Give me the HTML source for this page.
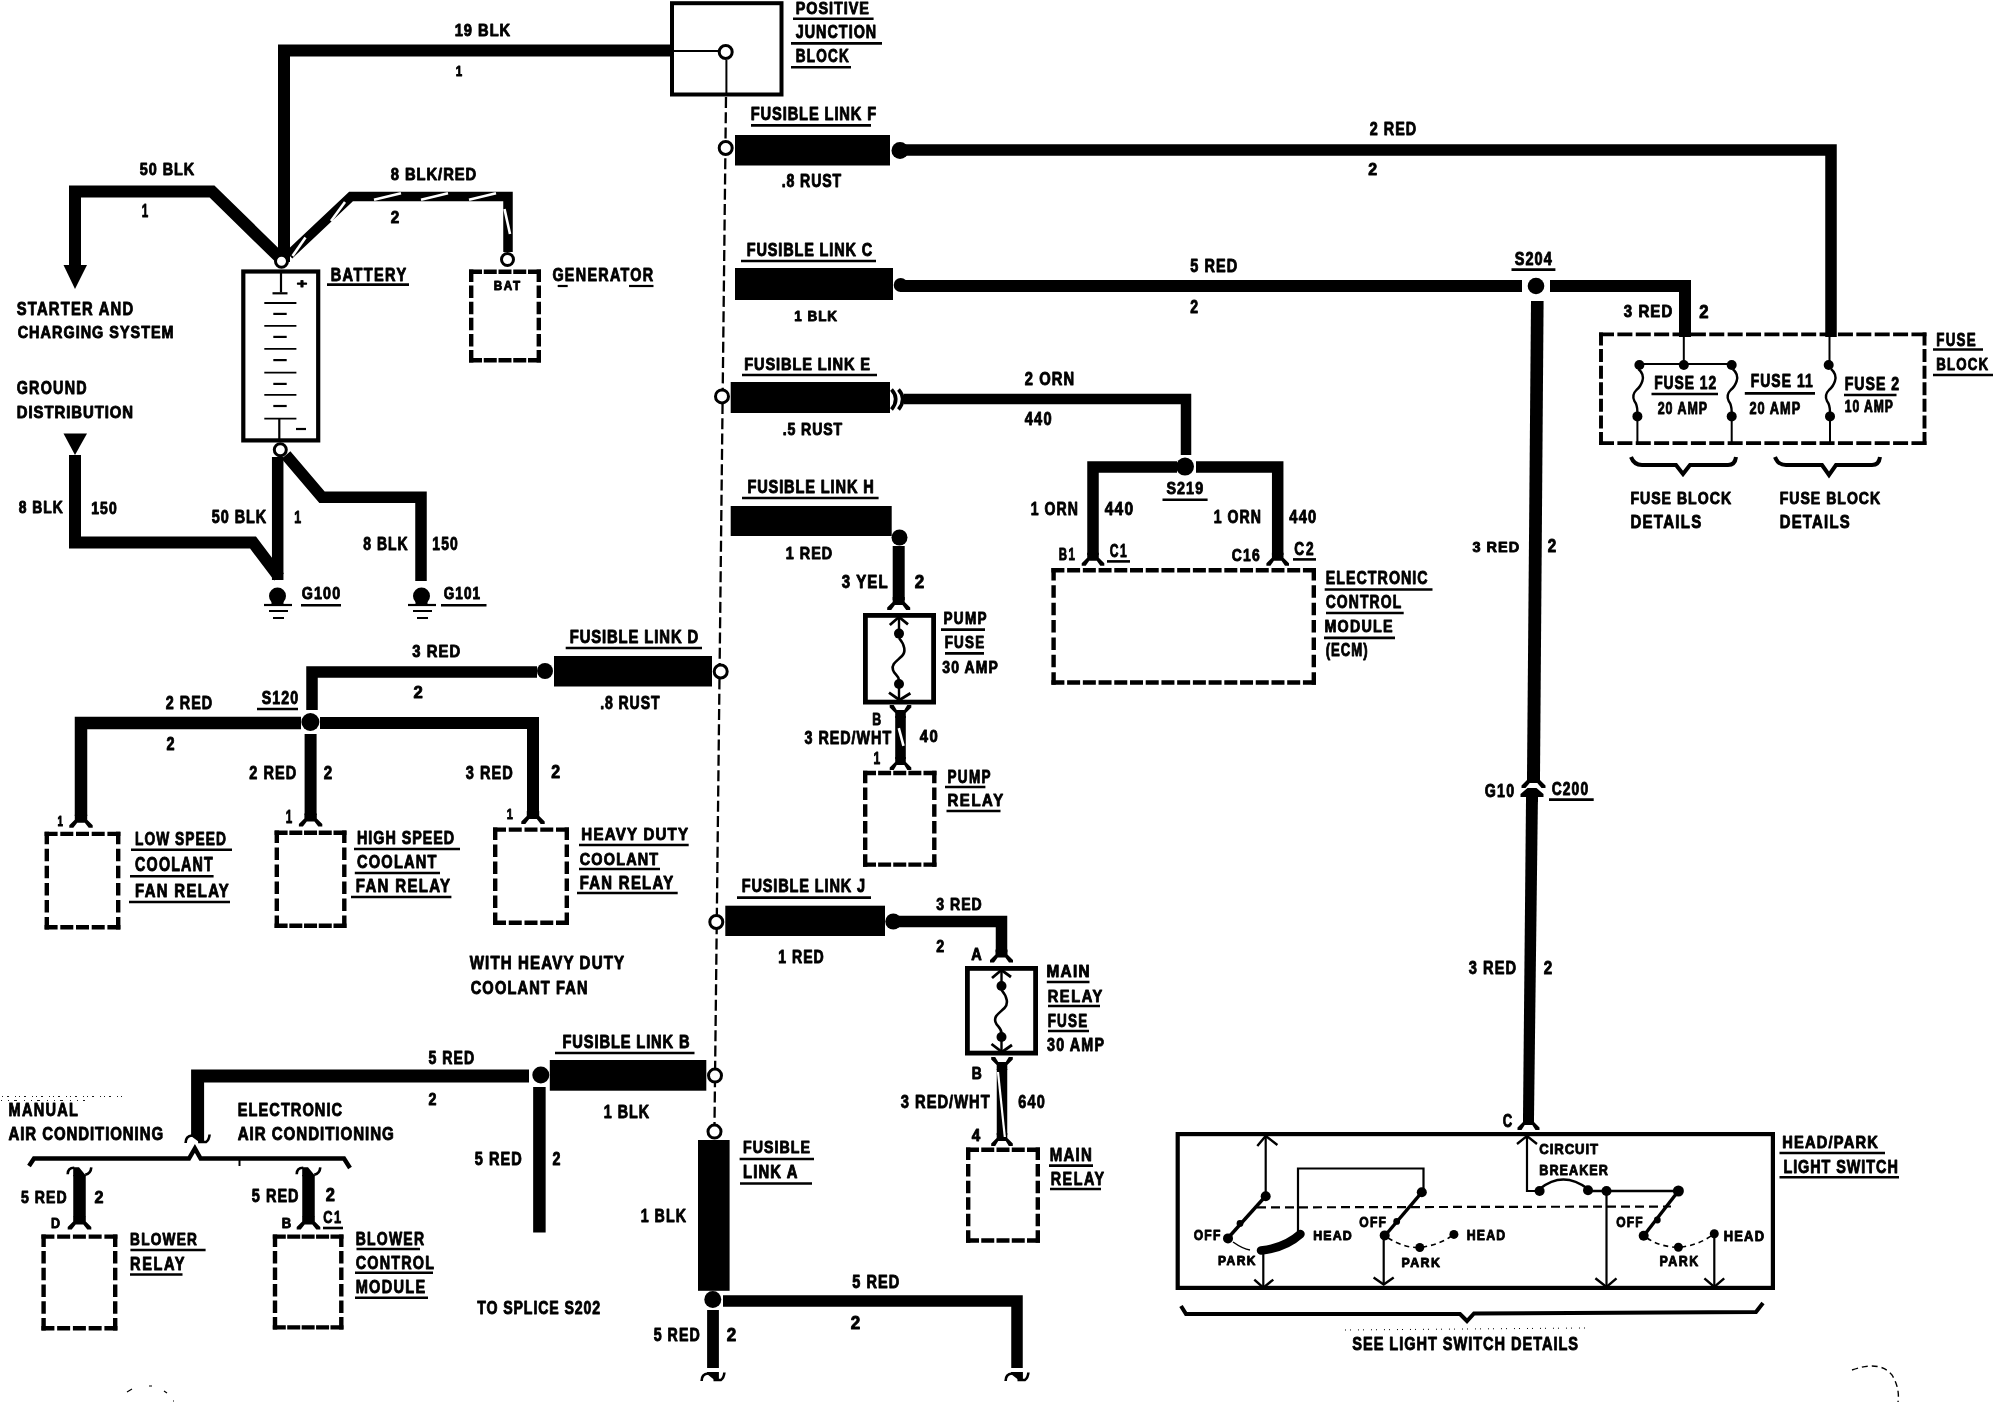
<!DOCTYPE html>
<html><head><meta charset="utf-8"><style>
html,body{margin:0;padding:0;background:#fff;overflow:hidden;}
svg{display:block;will-change:transform;}
text{font-family:"Liberation Sans",sans-serif;font-weight:bold;fill:#000;}
</style></head><body>
<svg width="1994" height="1408" viewBox="0 0 1994 1408" stroke="#000" fill="#000">
<rect x="0" y="0" width="1994" height="1408" fill="#fff" stroke="none"/>
<g stroke="none">
</g>
<polyline points="284,262 284,50.5 671,50.5" fill="none" stroke-width="12" stroke-linecap="butt" stroke-linejoin="miter"/>
<text transform="translate(454.7,35.7) scale(0.905,1)" font-size="16.18" textLength="61.3" lengthAdjust="spacing" stroke="#000" stroke-width="0.9" stroke-linejoin="round">19 BLK</text>
<text transform="translate(455.7,75.7) scale(0.748,1)" font-size="14.75" textLength="8.6" lengthAdjust="spacingAndGlyphs" stroke="#000" stroke-width="0.9" stroke-linejoin="round">1</text>
<polyline points="75,266 75,191.5 212,191.5 279,257" fill="none" stroke-width="12" stroke-linecap="butt" stroke-linejoin="miter"/>
<path d="M63.5,265 L87,265 L75,289 Z" stroke="none"/>
<text transform="translate(139.7,174.7) scale(0.852,1)" font-size="16.89" textLength="64.0" lengthAdjust="spacing" stroke="#000" stroke-width="0.9" stroke-linejoin="round">50 BLK</text>
<text transform="translate(141.7,216.7) scale(0.627,1)" font-size="17.61" textLength="10.3" lengthAdjust="spacingAndGlyphs" stroke="#000" stroke-width="0.9" stroke-linejoin="round">1</text>
<polyline points="289,255 351,196.5 508,196.5 508,252" fill="none" stroke-width="9.5" stroke-linecap="butt" stroke-linejoin="miter"/>
<line x1="374" y1="199.8" x2="401" y2="193.2" stroke="#fff" stroke-width="2.6"/>
<line x1="421" y1="199.8" x2="448" y2="193.2" stroke="#fff" stroke-width="2.6"/>
<line x1="469" y1="199.8" x2="496" y2="193.2" stroke="#fff" stroke-width="2.6"/>
<line x1="331" y1="221" x2="345" y2="202" stroke="#fff" stroke-width="2.6"/>
<line x1="292.5" y1="256" x2="305.5" y2="237.5" stroke="#fff" stroke-width="2.6"/>
<line x1="504.5" y1="209" x2="510" y2="234" stroke="#fff" stroke-width="2.6"/>
<text transform="translate(390.7,180.2) scale(0.872,1)" font-size="16.89" textLength="98.0" lengthAdjust="spacing" stroke="#000" stroke-width="0.9" stroke-linejoin="round">8 BLK/RED</text>
<text transform="translate(390.7,222.7) scale(0.893,1)" font-size="16.18" textLength="9.5" lengthAdjust="spacingAndGlyphs" stroke="#000" stroke-width="0.9" stroke-linejoin="round">2</text>
<rect x="243.3" y="271.5" width="74.9" height="168.9" fill="none" stroke-width="4.2"/>
<circle cx="281.5" cy="261.3" r="6.0" fill="#fff" stroke-width="3"/>
<polyline points="281,273 281,292.5" fill="none" stroke-width="2.2" stroke-linecap="butt" stroke-linejoin="miter"/>
<polyline points="272.5,293.3 287.5,293.3" fill="none" stroke-width="2.2" stroke-linecap="butt" stroke-linejoin="miter"/>
<text transform="translate(296.7,287.7) scale(1.150,1)" font-size="13.32" textLength="9.1" lengthAdjust="spacingAndGlyphs" stroke="#000" stroke-width="0.9" stroke-linejoin="round">+</text>
<polyline points="264.3,303 296.4,303" fill="none" stroke-width="1.8" stroke-linecap="butt" stroke-linejoin="miter"/>
<polyline points="273.3,313.9 286.7,313.9" fill="none" stroke-width="2.2" stroke-linecap="butt" stroke-linejoin="miter"/>
<polyline points="264.3,325.8 296.4,325.8" fill="none" stroke-width="1.8" stroke-linecap="butt" stroke-linejoin="miter"/>
<polyline points="273.3,336.9 286.7,336.9" fill="none" stroke-width="2.2" stroke-linecap="butt" stroke-linejoin="miter"/>
<polyline points="264.3,348.8 296.4,348.8" fill="none" stroke-width="1.8" stroke-linecap="butt" stroke-linejoin="miter"/>
<polyline points="273.3,360.1 286.7,360.1" fill="none" stroke-width="2.2" stroke-linecap="butt" stroke-linejoin="miter"/>
<polyline points="264.3,372.7 296.4,372.7" fill="none" stroke-width="1.8" stroke-linecap="butt" stroke-linejoin="miter"/>
<polyline points="273.3,383.9 286.7,383.9" fill="none" stroke-width="2.2" stroke-linecap="butt" stroke-linejoin="miter"/>
<polyline points="264.3,394.8 296.4,394.8" fill="none" stroke-width="1.8" stroke-linecap="butt" stroke-linejoin="miter"/>
<polyline points="273.3,406 286.7,406" fill="none" stroke-width="2.2" stroke-linecap="butt" stroke-linejoin="miter"/>
<polyline points="264.3,418.7 296.4,418.7" fill="none" stroke-width="1.8" stroke-linecap="butt" stroke-linejoin="miter"/>
<polyline points="279.3,418.7 279.3,440" fill="none" stroke-width="2.2" stroke-linecap="butt" stroke-linejoin="miter"/>
<polyline points="296,429 306,429" fill="none" stroke-width="2.2" stroke-linecap="butt" stroke-linejoin="miter"/>
<text transform="translate(330.7,280.7) scale(0.826,1)" font-size="17.61" textLength="91.4" lengthAdjust="spacing" stroke="#000" stroke-width="0.9" stroke-linejoin="round">BATTERY</text>
<line x1="327" y1="284.6" x2="409" y2="284.6" stroke-width="2.6"/>
<line x1="469.0" y1="271.7" x2="541.0" y2="271.7" stroke-width="4.4" stroke-dasharray="13.00 1.75"/>
<line x1="469.0" y1="360.3" x2="541.0" y2="360.3" stroke-width="4.4" stroke-dasharray="13.00 1.75"/>
<line x1="471.2" y1="269.5" x2="471.2" y2="362.5" stroke-width="4.4" stroke-dasharray="12.50 3.60"/>
<line x1="538.8" y1="269.5" x2="538.8" y2="362.5" stroke-width="4.4" stroke-dasharray="12.50 3.60"/>
<circle cx="507.5" cy="259.5" r="6.0" fill="#fff" stroke-width="3"/>
<text transform="translate(493.7,289.7) scale(0.879,1)" font-size="13.32" textLength="30.1" lengthAdjust="spacing" stroke="#000" stroke-width="0.9" stroke-linejoin="round">BAT</text>
<text transform="translate(552.4,280.7) scale(0.815,1)" font-size="17.61" textLength="123.6" lengthAdjust="spacing" stroke="#000" stroke-width="0.9" stroke-linejoin="round">GENERATOR</text>
<line x1="557.7" y1="286" x2="567.7" y2="286" stroke-width="2.2"/>
<line x1="629" y1="286" x2="653.5" y2="286" stroke-width="2.2"/>
<text transform="translate(16.7,314.7) scale(0.777,1)" font-size="19.04" textLength="149.9" lengthAdjust="spacing" stroke="#000" stroke-width="0.9" stroke-linejoin="round">STARTER AND</text>
<text transform="translate(17.7,338.2) scale(0.854,1)" font-size="16.89" textLength="182.6" lengthAdjust="spacing" stroke="#000" stroke-width="0.9" stroke-linejoin="round">CHARGING SYSTEM</text>
<text transform="translate(16.7,393.7) scale(0.814,1)" font-size="17.61" textLength="86.0" lengthAdjust="spacing" stroke="#000" stroke-width="0.9" stroke-linejoin="round">GROUND</text>
<text transform="translate(16.7,417.7) scale(0.897,1)" font-size="16.61" textLength="129.8" lengthAdjust="spacing" stroke="#000" stroke-width="0.9" stroke-linejoin="round">DISTRIBUTION</text>
<path d="M63.5,433.5 L87,433.5 L75,455 Z" stroke="none"/>
<circle cx="280.3" cy="449.8" r="6.0" fill="#fff" stroke-width="3"/>
<polyline points="277.7,457 277.7,580" fill="none" stroke-width="11.5" stroke-linecap="butt" stroke-linejoin="miter"/>
<polyline points="75,455 75,542.5 253,542.5 279,577" fill="none" stroke-width="12" stroke-linecap="butt" stroke-linejoin="miter"/>
<polyline points="286,455 322,497.3 421,497.3 421,581" fill="none" stroke-width="11.5" stroke-linecap="butt" stroke-linejoin="miter"/>
<text transform="translate(18.7,512.7) scale(0.823,1)" font-size="16.89" textLength="53.6" lengthAdjust="spacing" stroke="#000" stroke-width="0.9" stroke-linejoin="round">8 BLK</text>
<text transform="translate(91.2,513.7) scale(0.839,1)" font-size="16.61" textLength="30.4" lengthAdjust="spacing" stroke="#000" stroke-width="0.9" stroke-linejoin="round">150</text>
<text transform="translate(211.7,522.7) scale(0.817,1)" font-size="17.61" textLength="66.7" lengthAdjust="spacing" stroke="#000" stroke-width="0.9" stroke-linejoin="round">50 BLK</text>
<text transform="translate(294.3,522.7) scale(0.694,1)" font-size="16.89" textLength="9.9" lengthAdjust="spacingAndGlyphs" stroke="#000" stroke-width="0.9" stroke-linejoin="round">1</text>
<text transform="translate(363.3,550.3) scale(0.787,1)" font-size="17.75" textLength="56.4" lengthAdjust="spacing" stroke="#000" stroke-width="0.9" stroke-linejoin="round">8 BLK</text>
<text transform="translate(432.3,550.3) scale(0.782,1)" font-size="17.75" textLength="32.5" lengthAdjust="spacing" stroke="#000" stroke-width="0.9" stroke-linejoin="round">150</text>
<circle cx="277.5" cy="596" r="8.5" stroke="none"/>
<rect x="271.5" y="598" width="12.0" height="6.0" stroke="none"/>
<polyline points="264,605 292,605" fill="none" stroke-width="2.2" stroke-linecap="butt" stroke-linejoin="miter"/>
<polyline points="269,611 288,611" fill="none" stroke-width="2" stroke-linecap="butt" stroke-linejoin="miter"/>
<polyline points="273,618 284,618" fill="none" stroke-width="2" stroke-linecap="butt" stroke-linejoin="miter"/>
<text transform="translate(301.7,599.2) scale(0.847,1)" font-size="16.89" textLength="45.4" lengthAdjust="spacing" stroke="#000" stroke-width="0.9" stroke-linejoin="round">G100</text>
<line x1="301" y1="605.3" x2="341" y2="605.3" stroke-width="2.4"/>
<circle cx="421.5" cy="596" r="8.5" stroke="none"/>
<rect x="415.5" y="598" width="12.0" height="6.0" stroke="none"/>
<polyline points="408,605 436,605" fill="none" stroke-width="2.2" stroke-linecap="butt" stroke-linejoin="miter"/>
<polyline points="413,611 432,611" fill="none" stroke-width="2" stroke-linecap="butt" stroke-linejoin="miter"/>
<polyline points="417,618 428,618" fill="none" stroke-width="2" stroke-linecap="butt" stroke-linejoin="miter"/>
<text transform="translate(443.7,599.2) scale(0.803,1)" font-size="16.89" textLength="45.4" lengthAdjust="spacing" stroke="#000" stroke-width="0.9" stroke-linejoin="round">G101</text>
<line x1="441" y1="605.3" x2="486.5" y2="605.3" stroke-width="2.4"/>
<rect x="672.0" y="3.2" width="109.5" height="91.3" fill="none" stroke-width="4"/>
<polyline points="672,51 718,51" fill="none" stroke-width="2" stroke-linecap="butt" stroke-linejoin="miter"/>
<polyline points="726.4,60 726.4,95" fill="none" stroke-width="2" stroke-linecap="butt" stroke-linejoin="miter"/>
<circle cx="725.7" cy="52" r="6.5" fill="#fff" stroke-width="3"/>
<text transform="translate(795.7,13.5) scale(0.850,1)" font-size="16.96" textLength="86.0" lengthAdjust="spacing" stroke="#000" stroke-width="0.9" stroke-linejoin="round">POSITIVE</text>
<line x1="793" y1="18.8" x2="873.6" y2="18.8" stroke-width="2.6"/>
<text transform="translate(795.7,37.7) scale(0.814,1)" font-size="17.61" textLength="98.9" lengthAdjust="spacing" stroke="#000" stroke-width="0.9" stroke-linejoin="round">JUNCTION</text>
<line x1="791" y1="43.4" x2="882" y2="43.4" stroke-width="2.6"/>
<text transform="translate(795.7,61.7) scale(0.770,1)" font-size="17.61" textLength="68.8" lengthAdjust="spacing" stroke="#000" stroke-width="0.9" stroke-linejoin="round">BLOCK</text>
<line x1="791" y1="67.2" x2="851" y2="67.2" stroke-width="2.6"/>
<line x1="726" y1="97" x2="714.5" y2="1124" stroke-width="2.3" stroke-dasharray="11 4.3"/>
<text transform="translate(750.7,120.1) scale(0.808,1)" font-size="18.18" textLength="155.4" lengthAdjust="spacing" stroke="#000" stroke-width="0.9" stroke-linejoin="round">FUSIBLE LINK F</text>
<line x1="751" y1="125.4" x2="871" y2="125.4" stroke-width="2.6"/>
<circle cx="725.7" cy="148" r="6.5" fill="#fff" stroke-width="3"/>
<rect x="735" y="135" width="155.0" height="30.5" stroke="none"/>
<circle cx="900" cy="150.5" r="8.5" stroke="none"/>
<polyline points="900,150 1831,150 1831,337" fill="none" stroke-width="11.5" stroke-linecap="butt" stroke-linejoin="miter"/>
<text transform="translate(781.7,186.7) scale(0.802,1)" font-size="17.61" textLength="74.2" lengthAdjust="spacing" stroke="#000" stroke-width="0.9" stroke-linejoin="round">.8 RUST</text>
<text transform="translate(1369.7,135.1) scale(0.790,1)" font-size="18.18" textLength="58.8" lengthAdjust="spacing" stroke="#000" stroke-width="0.9" stroke-linejoin="round">2 RED</text>
<text transform="translate(1368.3,175.2) scale(0.896,1)" font-size="16.89" textLength="9.9" lengthAdjust="spacingAndGlyphs" stroke="#000" stroke-width="0.9" stroke-linejoin="round">2</text>
<text transform="translate(746.7,255.7) scale(0.822,1)" font-size="17.61" textLength="152.6" lengthAdjust="spacing" stroke="#000" stroke-width="0.9" stroke-linejoin="round">FUSIBLE LINK C</text>
<line x1="741" y1="261" x2="876" y2="261" stroke-width="2.6"/>
<rect x="735" y="268" width="158.0" height="32.0" stroke="none"/>
<circle cx="900.7" cy="285" r="7" stroke="none"/>
<polyline points="900,286 1522,286" fill="none" stroke-width="12" stroke-linecap="butt" stroke-linejoin="miter"/>
<polyline points="1550,286 1685,286 1685,337" fill="none" stroke-width="12" stroke-linecap="butt" stroke-linejoin="miter"/>
<circle cx="1536" cy="286" r="8.3" stroke="none"/>
<text transform="translate(794.3,320.7) scale(0.915,1)" font-size="14.75" textLength="46.8" lengthAdjust="spacing" stroke="#000" stroke-width="0.9" stroke-linejoin="round">1 BLK</text>
<text transform="translate(1190.3,271.7) scale(0.822,1)" font-size="17.61" textLength="57.0" lengthAdjust="spacing" stroke="#000" stroke-width="0.9" stroke-linejoin="round">5 RED</text>
<text transform="translate(1190.3,312.7) scale(0.739,1)" font-size="18.18" textLength="10.6" lengthAdjust="spacingAndGlyphs" stroke="#000" stroke-width="0.9" stroke-linejoin="round">2</text>
<text transform="translate(1514.7,264.7) scale(0.822,1)" font-size="17.61" textLength="45.2" lengthAdjust="spacing" stroke="#000" stroke-width="0.9" stroke-linejoin="round">S204</text>
<line x1="1511.5" y1="269.6" x2="1555.4" y2="269.6" stroke-width="2.6"/>
<text transform="translate(1623.7,316.7) scale(0.902,1)" font-size="16.61" textLength="53.8" lengthAdjust="spacing" stroke="#000" stroke-width="0.9" stroke-linejoin="round">3 RED</text>
<text transform="translate(1699.3,317.7) scale(0.877,1)" font-size="18.04" textLength="10.6" lengthAdjust="spacingAndGlyphs" stroke="#000" stroke-width="0.9" stroke-linejoin="round">2</text>
<path d="M1531,301 L1543.6,301 L1540,776 L1527,776 Z" stroke="none"/>
<path d="M1526,800 L1537.9,800 L1534,1118 L1523,1118 Z" stroke="none"/>
<text transform="translate(744.2,369.7) scale(0.866,1)" font-size="16.89" textLength="145.4" lengthAdjust="spacing" stroke="#000" stroke-width="0.9" stroke-linejoin="round">FUSIBLE LINK E</text>
<line x1="742" y1="375" x2="877" y2="375" stroke-width="2.6"/>
<circle cx="722" cy="396.4" r="6.5" fill="#fff" stroke-width="3"/>
<rect x="730.7" y="382" width="159.3" height="31.0" stroke="none"/>
<path d="M891.5,389.5 Q900,399 891.5,409.5" fill="none" stroke-width="3.6"/>
<path d="M898.5,389.5 Q907,399 898.5,409.5" fill="none" stroke-width="3.6"/>
<polyline points="904,399 1186,399 1186,455" fill="none" stroke-width="10.5" stroke-linecap="butt" stroke-linejoin="miter"/>
<text transform="translate(782.7,434.7) scale(0.850,1)" font-size="16.61" textLength="70.0" lengthAdjust="spacing" stroke="#000" stroke-width="0.9" stroke-linejoin="round">.5 RUST</text>
<text transform="translate(1024.7,384.7) scale(0.836,1)" font-size="17.61" textLength="59.1" lengthAdjust="spacing" stroke="#000" stroke-width="0.9" stroke-linejoin="round">2 ORN</text>
<text transform="translate(1024.7,425.4) scale(0.832,1)" font-size="17.61" textLength="32.3" lengthAdjust="spacing" stroke="#000" stroke-width="0.9" stroke-linejoin="round">440</text>
<polyline points="1093,555 1093,467 1177,467" fill="none" stroke-width="11.5" stroke-linecap="butt" stroke-linejoin="miter"/>
<polyline points="1196,467 1277.7,467 1277.7,555" fill="none" stroke-width="11.5" stroke-linecap="butt" stroke-linejoin="miter"/>
<circle cx="1185" cy="466.6" r="9" stroke="none"/>
<polygon points="1087.2,552.8 1098.8,552.8 1098.8,557.8 1104.3,563.3 1104.3,565.8 1100.3,565.8 1096.8,560.8 1089.2,560.8 1085.7,565.8 1081.7,565.8 1081.7,563.3 1087.2,557.8" stroke="none"/>
<polygon points="1271.9,552.8 1283.5,552.8 1283.5,557.8 1289.0,563.3 1289.0,565.8 1285.0,565.8 1281.5,560.8 1273.9,560.8 1270.4,565.8 1266.4,565.8 1266.4,563.3 1271.9,557.8" stroke="none"/>
<text transform="translate(1166.4,493.7) scale(0.855,1)" font-size="16.75" textLength="43.0" lengthAdjust="spacing" stroke="#000" stroke-width="0.9" stroke-linejoin="round">S219</text>
<line x1="1162.5" y1="499.7" x2="1207.6" y2="499.7" stroke-width="2.6"/>
<text transform="translate(1030.7,514.7) scale(0.779,1)" font-size="18.04" textLength="60.6" lengthAdjust="spacing" stroke="#000" stroke-width="0.9" stroke-linejoin="round">1 ORN</text>
<text transform="translate(1104.7,514.7) scale(0.861,1)" font-size="18.04" textLength="33.1" lengthAdjust="spacing" stroke="#000" stroke-width="0.9" stroke-linejoin="round">440</text>
<text transform="translate(1213.7,523.2) scale(0.799,1)" font-size="17.61" textLength="59.1" lengthAdjust="spacing" stroke="#000" stroke-width="0.9" stroke-linejoin="round">1 ORN</text>
<text transform="translate(1289.3,523.2) scale(0.832,1)" font-size="17.61" textLength="32.3" lengthAdjust="spacing" stroke="#000" stroke-width="0.9" stroke-linejoin="round">440</text>
<text transform="translate(1058.7,560.3) scale(0.675,1)" font-size="17.04" textLength="23.9" lengthAdjust="spacing" stroke="#000" stroke-width="0.9" stroke-linejoin="round">B1</text>
<text transform="translate(1109.7,556.7) scale(0.690,1)" font-size="17.61" textLength="24.7" lengthAdjust="spacing" stroke="#000" stroke-width="0.9" stroke-linejoin="round">C1</text>
<line x1="1107" y1="561.4" x2="1130" y2="561.4" stroke-width="2.6"/>
<text transform="translate(1231.7,560.7) scale(0.828,1)" font-size="16.75" textLength="33.8" lengthAdjust="spacing" stroke="#000" stroke-width="0.9" stroke-linejoin="round">C16</text>
<text transform="translate(1294.3,554.7) scale(0.766,1)" font-size="17.89" textLength="25.1" lengthAdjust="spacing" stroke="#000" stroke-width="0.9" stroke-linejoin="round">C2</text>
<line x1="1293" y1="559.4" x2="1316" y2="559.4" stroke-width="2.6"/>
<line x1="1051.4" y1="570.2" x2="1316.0" y2="570.2" stroke-width="4.4" stroke-dasharray="13.00 2.72"/>
<line x1="1051.4" y1="682.5" x2="1316.0" y2="682.5" stroke-width="4.4" stroke-dasharray="13.00 2.72"/>
<line x1="1053.6" y1="568.0" x2="1053.6" y2="684.7" stroke-width="4.4" stroke-dasharray="12.50 4.87"/>
<line x1="1313.8" y1="568.0" x2="1313.8" y2="684.7" stroke-width="4.4" stroke-dasharray="12.50 4.87"/>
<text transform="translate(1325.7,584.2) scale(0.761,1)" font-size="18.75" textLength="133.9" lengthAdjust="spacing" stroke="#000" stroke-width="0.9" stroke-linejoin="round">ELECTRONIC</text>
<line x1="1324.7" y1="589.5" x2="1432.5" y2="589.5" stroke-width="2.6"/>
<text transform="translate(1325.7,607.7) scale(0.789,1)" font-size="17.61" textLength="95.7" lengthAdjust="spacing" stroke="#000" stroke-width="0.9" stroke-linejoin="round">CONTROL</text>
<line x1="1326" y1="613" x2="1403.7" y2="613" stroke-width="2.6"/>
<text transform="translate(1324.4,631.7) scale(0.855,1)" font-size="16.75" textLength="79.8" lengthAdjust="spacing" stroke="#000" stroke-width="0.9" stroke-linejoin="round">MODULE</text>
<line x1="1324" y1="637.9" x2="1395" y2="637.9" stroke-width="2.6"/>
<text transform="translate(1325.7,655.7) scale(0.749,1)" font-size="17.61" textLength="55.9" lengthAdjust="spacing" stroke="#000" stroke-width="0.9" stroke-linejoin="round">(ECM)</text>
<text transform="translate(747.4,492.7) scale(0.828,1)" font-size="17.61" textLength="152.6" lengthAdjust="spacing" stroke="#000" stroke-width="0.9" stroke-linejoin="round">FUSIBLE LINK H</text>
<line x1="742" y1="498" x2="878.6" y2="498" stroke-width="2.6"/>
<rect x="730.7" y="506" width="161.0" height="30.0" stroke="none"/>
<circle cx="899.5" cy="537.5" r="8" stroke="none"/>
<polyline points="898.7,546 898.7,600" fill="none" stroke-width="12" stroke-linecap="butt" stroke-linejoin="miter"/>
<polygon points="892.7,597.0 904.7,597.0 904.7,602.0 910.2,607.5 910.2,610.0 906.2,610.0 902.5,605.0 894.9,605.0 891.2,610.0 887.2,610.0 887.2,607.5 892.7,602.0" stroke="none"/>
<text transform="translate(785.7,558.7) scale(0.887,1)" font-size="16.18" textLength="52.4" lengthAdjust="spacing" stroke="#000" stroke-width="0.9" stroke-linejoin="round">1 RED</text>
<text transform="translate(841.7,587.7) scale(0.853,1)" font-size="17.61" textLength="53.8" lengthAdjust="spacing" stroke="#000" stroke-width="0.9" stroke-linejoin="round">3 YEL</text>
<text transform="translate(914.7,587.7) scale(0.918,1)" font-size="17.61" textLength="10.3" lengthAdjust="spacingAndGlyphs" stroke="#000" stroke-width="0.9" stroke-linejoin="round">2</text>
<rect x="865.4" y="615.4" width="68.2" height="86.7" fill="none" stroke-width="4.8"/>
<path d="M889.8,625 L899,617 L908,624.4" fill="none" stroke-width="2.8"/>
<polyline points="899,618 899,630" fill="none" stroke-width="2.4" stroke-linecap="butt" stroke-linejoin="miter"/>
<circle cx="899" cy="633.6" r="5" stroke="none"/>
<path d="M899,638 C905,645 906,652 902,656 C897,661 891,664 893,670 C894,674 899,676 899,680" fill="none" stroke-width="2.6"/>
<circle cx="899" cy="684" r="5" stroke="none"/>
<polyline points="899,688 899,700" fill="none" stroke-width="2.4" stroke-linecap="butt" stroke-linejoin="miter"/>
<path d="M889,692.6 L899.5,700 L910.4,693.3" fill="none" stroke-width="2.8"/>
<text transform="translate(943.5,624.3) scale(0.798,1)" font-size="17.04" textLength="54.1" lengthAdjust="spacing" stroke="#000" stroke-width="0.9" stroke-linejoin="round">PUMP</text>
<line x1="941" y1="629.6" x2="985" y2="629.6" stroke-width="2.6"/>
<text transform="translate(944.7,648.1) scale(0.804,1)" font-size="16.75" textLength="49.1" lengthAdjust="spacing" stroke="#000" stroke-width="0.9" stroke-linejoin="round">FUSE</text>
<line x1="945" y1="653.4" x2="984" y2="653.4" stroke-width="2.6"/>
<text transform="translate(942.3,673.2) scale(0.829,1)" font-size="16.89" textLength="67.1" lengthAdjust="spacing" stroke="#000" stroke-width="0.9" stroke-linejoin="round">30 AMP</text>
<polyline points="900.5,716 900.5,759" fill="none" stroke-width="10.6" stroke-linecap="butt" stroke-linejoin="miter"/>
<polygon points="895.2,718.0 905.8,718.0 905.8,713.0 911.3,707.5 911.3,705.0 907.3,705.0 904.3,710.0 896.7,710.0 893.7,705.0 889.7,705.0 889.7,707.5 895.2,713.0" stroke="none"/>
<polygon points="895.2,757.0 905.8,757.0 905.8,762.0 911.3,767.5 911.3,770.0 907.3,770.0 904.3,765.0 896.7,765.0 893.7,770.0 889.7,770.0 889.7,767.5 895.2,762.0" stroke="none"/>
<line x1="898.8" y1="728.2" x2="903.5" y2="745.8" stroke="#fff" stroke-width="2.6"/>
<text transform="translate(872.2,724.7) scale(0.704,1)" font-size="16.75" textLength="12.7" lengthAdjust="spacingAndGlyphs" stroke="#000" stroke-width="0.9" stroke-linejoin="round">B</text>
<text transform="translate(804.5,744.4) scale(0.795,1)" font-size="18.04" textLength="109.0" lengthAdjust="spacing" stroke="#000" stroke-width="0.9" stroke-linejoin="round">3 RED/WHT</text>
<text transform="translate(919.7,742.4) scale(0.865,1)" font-size="17.18" textLength="21.0" lengthAdjust="spacing" stroke="#000" stroke-width="0.9" stroke-linejoin="round">40</text>
<text transform="translate(873.5,764.4) scale(0.703,1)" font-size="16.18" textLength="9.5" lengthAdjust="spacingAndGlyphs" stroke="#000" stroke-width="0.9" stroke-linejoin="round">1</text>
<line x1="863.0" y1="773.0" x2="936.5" y2="773.0" stroke-width="4.4" stroke-dasharray="13.00 2.12"/>
<line x1="863.0" y1="864.6" x2="936.5" y2="864.6" stroke-width="4.4" stroke-dasharray="13.00 2.12"/>
<line x1="865.2" y1="770.8" x2="865.2" y2="866.8" stroke-width="4.4" stroke-dasharray="12.50 4.20"/>
<line x1="934.3" y1="770.8" x2="934.3" y2="866.8" stroke-width="4.4" stroke-dasharray="12.50 4.20"/>
<text transform="translate(947.5,782.7) scale(0.770,1)" font-size="17.61" textLength="55.9" lengthAdjust="spacing" stroke="#000" stroke-width="0.9" stroke-linejoin="round">PUMP</text>
<line x1="945" y1="787" x2="985.4" y2="787" stroke-width="2.6"/>
<text transform="translate(947.5,806.3) scale(0.877,1)" font-size="17.04" textLength="63.4" lengthAdjust="spacing" stroke="#000" stroke-width="0.9" stroke-linejoin="round">RELAY</text>
<line x1="946.5" y1="811" x2="1000.5" y2="811" stroke-width="2.6"/>
<text transform="translate(569.7,642.7) scale(0.842,1)" font-size="17.61" textLength="152.6" lengthAdjust="spacing" stroke="#000" stroke-width="0.9" stroke-linejoin="round">FUSIBLE LINK D</text>
<line x1="565.7" y1="648" x2="702" y2="648" stroke-width="2.6"/>
<rect x="554" y="656" width="158.0" height="30.5" stroke="none"/>
<circle cx="720.7" cy="671.5" r="6.5" fill="#fff" stroke-width="3"/>
<circle cx="545" cy="671" r="8" stroke="none"/>
<polyline points="537,672 312,672 312,710" fill="none" stroke-width="11.5" stroke-linecap="butt" stroke-linejoin="miter"/>
<text transform="translate(412.2,656.7) scale(0.885,1)" font-size="16.75" textLength="54.2" lengthAdjust="spacing" stroke="#000" stroke-width="0.9" stroke-linejoin="round">3 RED</text>
<text transform="translate(413.4,698.2) scale(0.936,1)" font-size="16.89" textLength="9.9" lengthAdjust="spacingAndGlyphs" stroke="#000" stroke-width="0.9" stroke-linejoin="round">2</text>
<text transform="translate(600.2,709.3) scale(0.763,1)" font-size="18.46" textLength="77.8" lengthAdjust="spacing" stroke="#000" stroke-width="0.9" stroke-linejoin="round">.8 RUST</text>
<circle cx="310.4" cy="722" r="9" stroke="none"/>
<polyline points="81,816 81,723 301,723" fill="none" stroke-width="12.5" stroke-linecap="butt" stroke-linejoin="miter"/>
<polyline points="320,723 533,723 533,814" fill="none" stroke-width="12" stroke-linecap="butt" stroke-linejoin="miter"/>
<polyline points="310.6,734 310.6,815" fill="none" stroke-width="12" stroke-linecap="butt" stroke-linejoin="miter"/>
<polygon points="74.8,814.8 87.2,814.8 87.2,819.8 92.7,825.3 92.7,827.8 88.7,827.8 84.8,822.8 77.2,822.8 73.3,827.8 69.3,827.8 69.3,825.3 74.8,819.8" stroke="none"/>
<polygon points="304.4,813.5 316.8,813.5 316.8,818.5 322.3,824.0 322.3,826.5 318.3,826.5 314.4,821.5 306.8,821.5 302.9,826.5 298.9,826.5 298.9,824.0 304.4,818.5" stroke="none"/>
<polygon points="526.8,811.0 539.2,811.0 539.2,816.0 544.7,821.5 544.7,824.0 540.7,824.0 536.8,819.0 529.2,819.0 525.3,824.0 521.3,824.0 521.3,821.5 526.8,816.0" stroke="none"/>
<text transform="translate(261.7,703.7) scale(0.807,1)" font-size="17.61" textLength="45.2" lengthAdjust="spacing" stroke="#000" stroke-width="0.9" stroke-linejoin="round">S120</text>
<line x1="257" y1="709" x2="298" y2="709" stroke-width="2.6"/>
<text transform="translate(165.7,708.7) scale(0.783,1)" font-size="18.32" textLength="59.3" lengthAdjust="spacing" stroke="#000" stroke-width="0.9" stroke-linejoin="round">2 RED</text>
<text transform="translate(166.4,749.7) scale(0.782,1)" font-size="17.61" textLength="10.3" lengthAdjust="spacingAndGlyphs" stroke="#000" stroke-width="0.9" stroke-linejoin="round">2</text>
<text transform="translate(249.2,778.7) scale(0.762,1)" font-size="19.04" textLength="61.6" lengthAdjust="spacing" stroke="#000" stroke-width="0.9" stroke-linejoin="round">2 RED</text>
<text transform="translate(323.7,778.7) scale(0.759,1)" font-size="19.04" textLength="11.1" lengthAdjust="spacingAndGlyphs" stroke="#000" stroke-width="0.9" stroke-linejoin="round">2</text>
<text transform="translate(465.7,778.7) scale(0.765,1)" font-size="19.04" textLength="61.6" lengthAdjust="spacing" stroke="#000" stroke-width="0.9" stroke-linejoin="round">3 RED</text>
<text transform="translate(551.3,777.7) scale(0.860,1)" font-size="17.61" textLength="10.3" lengthAdjust="spacingAndGlyphs" stroke="#000" stroke-width="0.9" stroke-linejoin="round">2</text>
<text transform="translate(57.4,826.4) scale(0.614,1)" font-size="15.18" textLength="8.9" lengthAdjust="spacingAndGlyphs" stroke="#000" stroke-width="0.9" stroke-linejoin="round">1</text>
<text transform="translate(285.7,822.7) scale(0.627,1)" font-size="17.61" textLength="10.3" lengthAdjust="spacingAndGlyphs" stroke="#000" stroke-width="0.9" stroke-linejoin="round">1</text>
<text transform="translate(506.7,818.7) scale(0.713,1)" font-size="14.75" textLength="8.6" lengthAdjust="spacingAndGlyphs" stroke="#000" stroke-width="0.9" stroke-linejoin="round">1</text>
<line x1="44.6" y1="833.9" x2="120.4" y2="833.9" stroke-width="4.4" stroke-dasharray="13.00 2.70"/>
<line x1="44.6" y1="927.3" x2="120.4" y2="927.3" stroke-width="4.4" stroke-dasharray="13.00 2.70"/>
<line x1="46.8" y1="831.7" x2="46.8" y2="929.5" stroke-width="4.4" stroke-dasharray="12.50 4.56"/>
<line x1="118.2" y1="831.7" x2="118.2" y2="929.5" stroke-width="4.4" stroke-dasharray="12.50 4.56"/>
<line x1="274.6" y1="832.7" x2="346.5" y2="832.7" stroke-width="4.4" stroke-dasharray="13.00 1.72"/>
<line x1="274.6" y1="925.8" x2="346.5" y2="925.8" stroke-width="4.4" stroke-dasharray="13.00 1.72"/>
<line x1="276.8" y1="830.5" x2="276.8" y2="928.0" stroke-width="4.4" stroke-dasharray="12.50 4.50"/>
<line x1="344.3" y1="830.5" x2="344.3" y2="928.0" stroke-width="4.4" stroke-dasharray="12.50 4.50"/>
<line x1="493.0" y1="829.6" x2="569.0" y2="829.6" stroke-width="4.4" stroke-dasharray="13.00 2.75"/>
<line x1="493.0" y1="922.8" x2="569.0" y2="922.8" stroke-width="4.4" stroke-dasharray="13.00 2.75"/>
<line x1="495.2" y1="827.4" x2="495.2" y2="925.0" stroke-width="4.4" stroke-dasharray="12.50 4.52"/>
<line x1="566.8" y1="827.4" x2="566.8" y2="925.0" stroke-width="4.4" stroke-dasharray="12.50 4.52"/>
<text transform="translate(135.1,845.2) scale(0.734,1)" font-size="18.75" textLength="123.6" lengthAdjust="spacing" stroke="#000" stroke-width="0.9" stroke-linejoin="round">LOW SPEED</text>
<line x1="131" y1="849.8" x2="232" y2="849.8" stroke-width="2.6"/>
<text transform="translate(135.1,870.7) scale(0.740,1)" font-size="19.32" textLength="105.0" lengthAdjust="spacing" stroke="#000" stroke-width="0.9" stroke-linejoin="round">COOLANT</text>
<line x1="130" y1="876.3" x2="213.6" y2="876.3" stroke-width="2.6"/>
<text transform="translate(135.1,896.7) scale(0.783,1)" font-size="19.04" textLength="119.7" lengthAdjust="spacing" stroke="#000" stroke-width="0.9" stroke-linejoin="round">FAN RELAY</text>
<line x1="129" y1="902" x2="230" y2="902" stroke-width="2.6"/>
<text transform="translate(357.0,843.7) scale(0.782,1)" font-size="18.32" textLength="124.2" lengthAdjust="spacing" stroke="#000" stroke-width="0.9" stroke-linejoin="round">HIGH SPEED</text>
<line x1="354" y1="849" x2="460" y2="849" stroke-width="2.6"/>
<text transform="translate(357.0,868.3) scale(0.792,1)" font-size="18.46" textLength="100.3" lengthAdjust="spacing" stroke="#000" stroke-width="0.9" stroke-linejoin="round">COOLANT</text>
<line x1="354.8" y1="873" x2="440" y2="873" stroke-width="2.6"/>
<text transform="translate(355.7,891.7) scale(0.789,1)" font-size="19.04" textLength="119.7" lengthAdjust="spacing" stroke="#000" stroke-width="0.9" stroke-linejoin="round">FAN RELAY</text>
<line x1="351" y1="897" x2="451.4" y2="897" stroke-width="2.6"/>
<text transform="translate(581.3,840.2) scale(0.893,1)" font-size="16.89" textLength="119.6" lengthAdjust="spacing" stroke="#000" stroke-width="0.9" stroke-linejoin="round">HEAVY DUTY</text>
<line x1="579" y1="845" x2="688.7" y2="845" stroke-width="2.6"/>
<text transform="translate(579.7,864.7) scale(0.855,1)" font-size="16.89" textLength="91.8" lengthAdjust="spacing" stroke="#000" stroke-width="0.9" stroke-linejoin="round">COOLANT</text>
<line x1="579" y1="869" x2="660" y2="869" stroke-width="2.6"/>
<text transform="translate(579.7,888.7) scale(0.844,1)" font-size="17.61" textLength="110.7" lengthAdjust="spacing" stroke="#000" stroke-width="0.9" stroke-linejoin="round">FAN RELAY</text>
<line x1="577" y1="893" x2="677.7" y2="893" stroke-width="2.6"/>
<text transform="translate(469.7,969.3) scale(0.820,1)" font-size="18.46" textLength="188.3" lengthAdjust="spacing" stroke="#000" stroke-width="0.9" stroke-linejoin="round">WITH HEAVY DUTY</text>
<text transform="translate(470.7,993.7) scale(0.830,1)" font-size="17.61" textLength="140.8" lengthAdjust="spacing" stroke="#000" stroke-width="0.9" stroke-linejoin="round">COOLANT FAN</text>
<text transform="translate(741.7,892.3) scale(0.788,1)" font-size="18.46" textLength="156.7" lengthAdjust="spacing" stroke="#000" stroke-width="0.9" stroke-linejoin="round">FUSIBLE LINK J</text>
<line x1="737" y1="897.6" x2="871" y2="897.6" stroke-width="2.6"/>
<circle cx="716.3" cy="922" r="6.5" fill="#fff" stroke-width="3"/>
<rect x="725.3" y="905.7" width="159.7" height="30.3" stroke="none"/>
<circle cx="893.3" cy="921.5" r="8" stroke="none"/>
<polyline points="893,921.5 1001.5,921.5 1001.5,952" fill="none" stroke-width="11.5" stroke-linecap="butt" stroke-linejoin="miter"/>
<polygon points="995.5,949.5 1007.5,949.5 1007.5,954.5 1013.0,960.0 1013.0,962.5 1009.0,962.5 1005.3,957.5 997.7,957.5 994.0,962.5 990.0,962.5 990.0,960.0 995.5,954.5" stroke="none"/>
<text transform="translate(778.2,962.7) scale(0.799,1)" font-size="17.61" textLength="57.0" lengthAdjust="spacing" stroke="#000" stroke-width="0.9" stroke-linejoin="round">1 RED</text>
<text transform="translate(936.2,909.7) scale(0.840,1)" font-size="16.75" textLength="54.2" lengthAdjust="spacing" stroke="#000" stroke-width="0.9" stroke-linejoin="round">3 RED</text>
<text transform="translate(936.2,951.7) scale(0.805,1)" font-size="16.89" textLength="9.9" lengthAdjust="spacingAndGlyphs" stroke="#000" stroke-width="0.9" stroke-linejoin="round">2</text>
<text transform="translate(971.3,959.7) scale(0.851,1)" font-size="16.18" textLength="12.3" lengthAdjust="spacingAndGlyphs" stroke="#000" stroke-width="0.9" stroke-linejoin="round">A</text>
<rect x="967.4" y="968.4" width="68.2" height="84.7" fill="none" stroke-width="4.8"/>
<path d="M992,978 L1001.5,970 L1011,977" fill="none" stroke-width="2.8"/>
<polyline points="1001.5,971 1001.5,983" fill="none" stroke-width="2.4" stroke-linecap="butt" stroke-linejoin="miter"/>
<circle cx="1001.5" cy="986" r="5" stroke="none"/>
<path d="M1001.5,990 C1007.5,997 1008.5,1004 1004.5,1008 C999.5,1013 993.5,1016 995.5,1022 C996.5,1026 1001.5,1028 1001.5,1033" fill="none" stroke-width="2.6"/>
<circle cx="1001.5" cy="1037" r="5" stroke="none"/>
<polyline points="1001.5,1040 1001.5,1052" fill="none" stroke-width="2.4" stroke-linecap="butt" stroke-linejoin="miter"/>
<path d="M991.5,1044 L1002,1052 L1012,1045" fill="none" stroke-width="2.8"/>
<text transform="translate(1046.5,976.7) scale(0.950,1)" font-size="16.18" textLength="45.4" lengthAdjust="spacing" stroke="#000" stroke-width="0.9" stroke-linejoin="round">MAIN</text>
<line x1="1046.8" y1="982" x2="1089.5" y2="982" stroke-width="2.6"/>
<text transform="translate(1047.7,1001.7) scale(0.881,1)" font-size="16.61" textLength="61.9" lengthAdjust="spacing" stroke="#000" stroke-width="0.9" stroke-linejoin="round">RELAY</text>
<line x1="1048" y1="1006" x2="1100" y2="1006" stroke-width="2.6"/>
<text transform="translate(1047.7,1027.0) scale(0.718,1)" font-size="18.75" textLength="55.0" lengthAdjust="spacing" stroke="#000" stroke-width="0.9" stroke-linejoin="round">FUSE</text>
<line x1="1048" y1="1031" x2="1089" y2="1031" stroke-width="2.6"/>
<text transform="translate(1047.1,1051.2) scale(0.782,1)" font-size="18.32" textLength="72.7" lengthAdjust="spacing" stroke="#000" stroke-width="0.9" stroke-linejoin="round">30 AMP</text>
<polyline points="1002,1069 1002,1135" fill="none" stroke-width="10.5" stroke-linecap="butt" stroke-linejoin="miter"/>
<polygon points="996.7,1070.0 1007.3,1070.0 1007.3,1065.0 1012.8,1059.5 1012.8,1057.0 1008.8,1057.0 1005.8,1062.0 998.2,1062.0 995.2,1057.0 991.2,1057.0 991.2,1059.5 996.7,1065.0" stroke="none"/>
<polygon points="996.7,1133.0 1007.3,1133.0 1007.3,1138.0 1012.8,1143.5 1012.8,1146.0 1008.8,1146.0 1005.8,1141.0 998.2,1141.0 995.2,1146.0 991.2,1146.0 991.2,1143.5 996.7,1138.0" stroke="none"/>
<line x1="998" y1="1072" x2="1004.8" y2="1137" stroke="#fff" stroke-width="2.2"/>
<text transform="translate(971.7,1079.4) scale(0.811,1)" font-size="16.32" textLength="12.4" lengthAdjust="spacingAndGlyphs" stroke="#000" stroke-width="0.9" stroke-linejoin="round">B</text>
<text transform="translate(900.7,1107.7) scale(0.798,1)" font-size="18.46" textLength="111.6" lengthAdjust="spacing" stroke="#000" stroke-width="0.9" stroke-linejoin="round">3 RED/WHT</text>
<text transform="translate(1018.3,1107.7) scale(0.785,1)" font-size="18.46" textLength="33.9" lengthAdjust="spacing" stroke="#000" stroke-width="0.9" stroke-linejoin="round">640</text>
<text transform="translate(971.7,1141.1) scale(0.863,1)" font-size="16.75" textLength="9.8" lengthAdjust="spacingAndGlyphs" stroke="#000" stroke-width="0.9" stroke-linejoin="round">4</text>
<line x1="966.0" y1="1149.8" x2="1040.0" y2="1149.8" stroke-width="4.4" stroke-dasharray="13.00 2.25"/>
<line x1="966.0" y1="1240.5" x2="1040.0" y2="1240.5" stroke-width="4.4" stroke-dasharray="13.00 2.25"/>
<line x1="968.2" y1="1147.6" x2="968.2" y2="1242.7" stroke-width="4.4" stroke-dasharray="12.50 4.02"/>
<line x1="1037.8" y1="1147.6" x2="1037.8" y2="1242.7" stroke-width="4.4" stroke-dasharray="12.50 4.02"/>
<text transform="translate(1049.7,1161.3) scale(0.813,1)" font-size="18.46" textLength="51.8" lengthAdjust="spacing" stroke="#000" stroke-width="0.9" stroke-linejoin="round">MAIN</text>
<line x1="1049" y1="1165.6" x2="1093" y2="1165.6" stroke-width="2.6"/>
<text transform="translate(1050.7,1185.4) scale(0.769,1)" font-size="18.61" textLength="69.3" lengthAdjust="spacing" stroke="#000" stroke-width="0.9" stroke-linejoin="round">RELAY</text>
<line x1="1050" y1="1189" x2="1101" y2="1189" stroke-width="2.6"/>
<text transform="translate(562.5,1047.7) scale(0.833,1)" font-size="17.61" textLength="152.6" lengthAdjust="spacing" stroke="#000" stroke-width="0.9" stroke-linejoin="round">FUSIBLE LINK B</text>
<line x1="555" y1="1053" x2="694.5" y2="1053" stroke-width="2.6"/>
<rect x="549.8" y="1060" width="156.5" height="30.7" stroke="none"/>
<circle cx="715" cy="1075.6" r="6.5" fill="#fff" stroke-width="3"/>
<circle cx="540.8" cy="1075" r="8.5" stroke="none"/>
<polyline points="529,1076 197.6,1076 197.6,1134" fill="none" stroke-width="13" stroke-linecap="butt" stroke-linejoin="miter"/>
<polygon points="191.1,1134.0 204.1,1134.0 204.1,1142.0 199.1,1142.0 191.6,1136.5 191.1,1136.5" stroke="none"/>
<path d="M185.6,1143 Q185.6,1136 192.1,1135.5" fill="none" stroke-width="2.6"/>
<path d="M198.1,1142 L206.1,1142 Q209.1,1140 209.6,1134.5" fill="none" stroke-width="2.6"/>
<polyline points="539.4,1087 539.4,1232.6" fill="none" stroke-width="12.5" stroke-linecap="butt" stroke-linejoin="miter"/>
<text transform="translate(603.7,1117.5) scale(0.807,1)" font-size="17.75" textLength="56.4" lengthAdjust="spacing" stroke="#000" stroke-width="0.9" stroke-linejoin="round">1 BLK</text>
<text transform="translate(428.5,1063.7) scale(0.801,1)" font-size="17.61" textLength="57.0" lengthAdjust="spacing" stroke="#000" stroke-width="0.9" stroke-linejoin="round">5 RED</text>
<text transform="translate(428.5,1104.7) scale(0.819,1)" font-size="16.61" textLength="9.7" lengthAdjust="spacingAndGlyphs" stroke="#000" stroke-width="0.9" stroke-linejoin="round">2</text>
<text transform="translate(474.7,1164.7) scale(0.824,1)" font-size="17.61" textLength="57.0" lengthAdjust="spacing" stroke="#000" stroke-width="0.9" stroke-linejoin="round">5 RED</text>
<text transform="translate(552.5,1164.7) scale(0.772,1)" font-size="17.61" textLength="10.3" lengthAdjust="spacingAndGlyphs" stroke="#000" stroke-width="0.9" stroke-linejoin="round">2</text>
<text transform="translate(477.3,1314.3) scale(0.767,1)" font-size="18.46" textLength="160.1" lengthAdjust="spacing" stroke="#000" stroke-width="0.9" stroke-linejoin="round">TO SPLICE S202</text>
<text transform="translate(8.5,1116.2) scale(0.777,1)" font-size="18.75" textLength="89.3" lengthAdjust="spacing" stroke="#000" stroke-width="0.9" stroke-linejoin="round">MANUAL</text>
<text transform="translate(8.5,1139.7) scale(0.818,1)" font-size="18.32" textLength="189.0" lengthAdjust="spacing" stroke="#000" stroke-width="0.9" stroke-linejoin="round">AIR CONDITIONING</text>
<text transform="translate(237.7,1116.2) scale(0.780,1)" font-size="18.75" textLength="133.9" lengthAdjust="spacing" stroke="#000" stroke-width="0.9" stroke-linejoin="round">ELECTRONIC</text>
<text transform="translate(237.7,1139.7) scale(0.826,1)" font-size="18.32" textLength="189.0" lengthAdjust="spacing" stroke="#000" stroke-width="0.9" stroke-linejoin="round">AIR CONDITIONING</text>
<path d="M29,1166 L34,1158.5 L189,1158.5 L194.9,1148.5 L200.6,1158.5 L344,1158.5 L350,1168" fill="none" stroke-width="4.4"/>
<polyline points="239.5,1158 239.5,1166" fill="none" stroke-width="2" stroke-linecap="butt" stroke-linejoin="miter"/>
<polyline points="79.5,1175 79.5,1217" fill="none" stroke-width="12.5" stroke-linecap="butt" stroke-linejoin="miter"/>
<polygon points="73.2,1176.3 85.8,1176.3 85.8,1175.3 84.8,1174.3 79.0,1167.3 73.2,1167.3" stroke="none"/>
<path d="M67.7,1174.3 Q67.7,1167.8 74.2,1167.8" fill="none" stroke-width="2.6"/>
<path d="M85.3,1174.8 Q90.8,1173.3 91.3,1167.3" fill="none" stroke-width="2.6"/>
<polygon points="73.2,1216.5 85.8,1216.5 85.8,1221.5 91.3,1227.0 91.3,1229.5 87.3,1229.5 83.3,1224.5 75.7,1224.5 71.7,1229.5 67.7,1229.5 67.7,1227.0 73.2,1221.5" stroke="none"/>
<polyline points="308.5,1175 308.5,1217" fill="none" stroke-width="12.5" stroke-linecap="butt" stroke-linejoin="miter"/>
<polygon points="302.2,1176.3 314.8,1176.3 314.8,1175.3 313.8,1174.3 308.0,1167.3 302.2,1167.3" stroke="none"/>
<path d="M296.7,1174.3 Q296.7,1167.8 303.2,1167.8" fill="none" stroke-width="2.6"/>
<path d="M314.3,1174.8 Q319.8,1173.3 320.3,1167.3" fill="none" stroke-width="2.6"/>
<polygon points="302.2,1216.5 314.8,1216.5 314.8,1221.5 320.3,1227.0 320.3,1229.5 316.3,1229.5 312.3,1224.5 304.7,1224.5 300.7,1229.5 296.7,1229.5 296.7,1227.0 302.2,1221.5" stroke="none"/>
<text transform="translate(21.0,1202.7) scale(0.833,1)" font-size="16.89" textLength="54.7" lengthAdjust="spacing" stroke="#000" stroke-width="0.9" stroke-linejoin="round">5 RED</text>
<text transform="translate(94.5,1202.7) scale(0.906,1)" font-size="16.89" textLength="9.9" lengthAdjust="spacingAndGlyphs" stroke="#000" stroke-width="0.9" stroke-linejoin="round">2</text>
<text transform="translate(51.1,1227.7) scale(0.808,1)" font-size="14.75" textLength="11.2" lengthAdjust="spacingAndGlyphs" stroke="#000" stroke-width="0.9" stroke-linejoin="round">D</text>
<text transform="translate(251.7,1202.2) scale(0.790,1)" font-size="18.32" textLength="59.3" lengthAdjust="spacing" stroke="#000" stroke-width="0.9" stroke-linejoin="round">5 RED</text>
<text transform="translate(325.7,1200.7) scale(0.889,1)" font-size="17.61" textLength="10.3" lengthAdjust="spacingAndGlyphs" stroke="#000" stroke-width="0.9" stroke-linejoin="round">2</text>
<text transform="translate(281.7,1227.7) scale(0.844,1)" font-size="14.75" textLength="11.2" lengthAdjust="spacingAndGlyphs" stroke="#000" stroke-width="0.9" stroke-linejoin="round">B</text>
<text transform="translate(323.2,1222.7) scale(0.757,1)" font-size="16.89" textLength="23.7" lengthAdjust="spacing" stroke="#000" stroke-width="0.9" stroke-linejoin="round">C1</text>
<line x1="323" y1="1228" x2="343" y2="1228" stroke-width="2.6"/>
<line x1="41.4" y1="1236.6" x2="117.4" y2="1236.6" stroke-width="4.4" stroke-dasharray="13.00 2.75"/>
<line x1="41.4" y1="1328.2" x2="117.4" y2="1328.2" stroke-width="4.4" stroke-dasharray="13.00 2.75"/>
<line x1="43.6" y1="1234.4" x2="43.6" y2="1330.4" stroke-width="4.4" stroke-dasharray="12.50 4.20"/>
<line x1="115.2" y1="1234.4" x2="115.2" y2="1330.4" stroke-width="4.4" stroke-dasharray="12.50 4.20"/>
<line x1="272.8" y1="1236.6" x2="343.5" y2="1236.6" stroke-width="4.4" stroke-dasharray="13.00 1.42"/>
<line x1="272.8" y1="1327.4" x2="343.5" y2="1327.4" stroke-width="4.4" stroke-dasharray="13.00 1.42"/>
<line x1="275.0" y1="1234.4" x2="275.0" y2="1329.6" stroke-width="4.4" stroke-dasharray="12.50 4.04"/>
<line x1="341.3" y1="1234.4" x2="341.3" y2="1329.6" stroke-width="4.4" stroke-dasharray="12.50 4.04"/>
<text transform="translate(130.1,1245.3) scale(0.804,1)" font-size="17.04" textLength="83.2" lengthAdjust="spacing" stroke="#000" stroke-width="0.9" stroke-linejoin="round">BLOWER</text>
<line x1="130.4" y1="1250" x2="205.6" y2="1250" stroke-width="2.6"/>
<text transform="translate(130.1,1270.4) scale(0.784,1)" font-size="18.61" textLength="69.3" lengthAdjust="spacing" stroke="#000" stroke-width="0.9" stroke-linejoin="round">RELAY</text>
<line x1="130" y1="1274.5" x2="182.5" y2="1274.5" stroke-width="2.6"/>
<text transform="translate(355.7,1244.7) scale(0.794,1)" font-size="17.61" textLength="86.0" lengthAdjust="spacing" stroke="#000" stroke-width="0.9" stroke-linejoin="round">BLOWER</text>
<line x1="356.5" y1="1249" x2="420" y2="1249" stroke-width="2.6"/>
<text transform="translate(355.7,1269.2) scale(0.768,1)" font-size="18.75" textLength="101.9" lengthAdjust="spacing" stroke="#000" stroke-width="0.9" stroke-linejoin="round">CONTROL</text>
<line x1="355" y1="1272.7" x2="433" y2="1272.7" stroke-width="2.6"/>
<text transform="translate(355.7,1293.0) scale(0.778,1)" font-size="18.75" textLength="89.3" lengthAdjust="spacing" stroke="#000" stroke-width="0.9" stroke-linejoin="round">MODULE</text>
<line x1="355" y1="1297.8" x2="428" y2="1297.8" stroke-width="2.6"/>
<circle cx="714.5" cy="1131.6" r="6.5" fill="#fff" stroke-width="3"/>
<rect x="698" y="1140" width="31.6" height="150.8" stroke="none"/>
<text transform="translate(743.1,1153.3) scale(0.835,1)" font-size="17.04" textLength="80.1" lengthAdjust="spacing" stroke="#000" stroke-width="0.9" stroke-linejoin="round">FUSIBLE</text>
<line x1="739.6" y1="1159" x2="814" y2="1159" stroke-width="2.6"/>
<text transform="translate(743.1,1178.1) scale(0.843,1)" font-size="17.61" textLength="64.5" lengthAdjust="spacing" stroke="#000" stroke-width="0.9" stroke-linejoin="round">LINK A</text>
<line x1="740" y1="1183.5" x2="812" y2="1183.5" stroke-width="2.6"/>
<text transform="translate(640.7,1221.5) scale(0.789,1)" font-size="18.04" textLength="57.3" lengthAdjust="spacing" stroke="#000" stroke-width="0.9" stroke-linejoin="round">1 BLK</text>
<circle cx="712.8" cy="1299.6" r="8.5" stroke="none"/>
<polyline points="723,1301 1017,1301 1017,1368" fill="none" stroke-width="11.5" stroke-linecap="butt" stroke-linejoin="miter"/>
<polyline points="713,1310 713,1368" fill="none" stroke-width="11.8" stroke-linecap="butt" stroke-linejoin="miter"/>
<polygon points="707.1,1372.0 718.9,1372.0 718.9,1380.0 714.5,1380.0 707.6,1374.5 707.1,1374.5" stroke="none"/>
<path d="M701.6,1381 Q701.6,1374 708.1,1373.5" fill="none" stroke-width="2.6"/>
<path d="M713.5,1380 L720.9,1380 Q723.9,1378 724.4,1372.5" fill="none" stroke-width="2.6"/>
<polygon points="1011.1,1372.0 1022.9,1372.0 1022.9,1380.0 1018.5,1380.0 1011.6,1374.5 1011.1,1374.5" stroke="none"/>
<path d="M1005.6,1381 Q1005.6,1374 1012.1,1373.5" fill="none" stroke-width="2.6"/>
<path d="M1017.5,1380 L1024.9,1380 Q1027.9,1378 1028.4,1372.5" fill="none" stroke-width="2.6"/>
<text transform="translate(852.2,1287.7) scale(0.824,1)" font-size="17.61" textLength="57.0" lengthAdjust="spacing" stroke="#000" stroke-width="0.9" stroke-linejoin="round">5 RED</text>
<text transform="translate(850.7,1328.7) scale(0.918,1)" font-size="17.61" textLength="10.3" lengthAdjust="spacingAndGlyphs" stroke="#000" stroke-width="0.9" stroke-linejoin="round">2</text>
<text transform="translate(653.7,1341.1) scale(0.806,1)" font-size="17.61" textLength="57.0" lengthAdjust="spacing" stroke="#000" stroke-width="0.9" stroke-linejoin="round">5 RED</text>
<text transform="translate(726.7,1341.1) scale(0.918,1)" font-size="17.61" textLength="10.3" lengthAdjust="spacingAndGlyphs" stroke="#000" stroke-width="0.9" stroke-linejoin="round">2</text>
<line x1="1599.0" y1="334.4" x2="1926.5" y2="334.4" stroke-width="3.9" stroke-dasharray="15.00 3.38"/>
<line x1="1599.0" y1="443.1" x2="1926.5" y2="443.1" stroke-width="3.9" stroke-dasharray="15.00 3.38"/>
<line x1="1601.0" y1="332.5" x2="1601.0" y2="445.0" stroke-width="3.9" stroke-dasharray="13.00 3.58"/>
<line x1="1924.5" y1="332.5" x2="1924.5" y2="445.0" stroke-width="3.9" stroke-dasharray="13.00 3.58"/>
<text transform="translate(1936.3,345.7) scale(0.704,1)" font-size="19.04" textLength="55.8" lengthAdjust="spacing" stroke="#000" stroke-width="0.9" stroke-linejoin="round">FUSE</text>
<line x1="1933" y1="349.5" x2="1983" y2="349.5" stroke-width="2.6"/>
<text transform="translate(1936.3,369.7) scale(0.786,1)" font-size="16.89" textLength="66.0" lengthAdjust="spacing" stroke="#000" stroke-width="0.9" stroke-linejoin="round">BLOCK</text>
<line x1="1933" y1="375" x2="1993" y2="375" stroke-width="2.6"/>
<polyline points="1639.4,364 1732,364" fill="none" stroke-width="2" stroke-linecap="butt" stroke-linejoin="miter"/>
<polyline points="1683.8,337 1683.8,364" fill="none" stroke-width="2" stroke-linecap="butt" stroke-linejoin="miter"/>
<polyline points="1829.5,337 1829.5,365" fill="none" stroke-width="2" stroke-linecap="butt" stroke-linejoin="miter"/>
<circle cx="1639.4" cy="365" r="5" stroke="none"/>
<circle cx="1683.8" cy="365" r="5" stroke="none"/>
<circle cx="1731.7" cy="365" r="5" stroke="none"/>
<circle cx="1828.7" cy="365" r="5" stroke="none"/>
<path d="M1638.4,369 Q1644.4,374 1642.4,381 Q1640.4,387 1636.4,390 Q1631.4,395 1634.4,401 Q1637.4,405 1637.4,412" fill="none" stroke-width="2.4"/>
<circle cx="1637.4" cy="416.4" r="5" stroke="none"/>
<polyline points="1637.4,420 1637.4,442" fill="none" stroke-width="2" stroke-linecap="butt" stroke-linejoin="miter"/>
<path d="M1732.7,369 Q1738.7,374 1736.7,381 Q1734.7,387 1730.7,390 Q1725.7,395 1728.7,401 Q1731.7,405 1731.7,412" fill="none" stroke-width="2.4"/>
<circle cx="1731.7" cy="416.4" r="5" stroke="none"/>
<polyline points="1731.7,420 1731.7,442" fill="none" stroke-width="2" stroke-linecap="butt" stroke-linejoin="miter"/>
<path d="M1831,369 Q1837,374 1835,381 Q1833,387 1829,390 Q1824,395 1827,401 Q1830,405 1830,412" fill="none" stroke-width="2.4"/>
<circle cx="1830" cy="416.4" r="5" stroke="none"/>
<polyline points="1830,420 1830,442" fill="none" stroke-width="2" stroke-linecap="butt" stroke-linejoin="miter"/>
<text transform="translate(1654.2,388.7) scale(0.730,1)" font-size="19.04" textLength="84.9" lengthAdjust="spacing" stroke="#000" stroke-width="0.9" stroke-linejoin="round">FUSE 12</text>
<line x1="1651.5" y1="394" x2="1718" y2="394" stroke-width="2.6"/>
<text transform="translate(1657.7,413.7) scale(0.731,1)" font-size="17.04" textLength="67.6" lengthAdjust="spacing" stroke="#000" stroke-width="0.9" stroke-linejoin="round">20 AMP</text>
<text transform="translate(1750.7,387.3) scale(0.789,1)" font-size="17.61" textLength="78.5" lengthAdjust="spacing" stroke="#000" stroke-width="0.9" stroke-linejoin="round">FUSE 11</text>
<line x1="1744.8" y1="393.4" x2="1815" y2="393.4" stroke-width="2.6"/>
<text transform="translate(1749.5,414.4) scale(0.743,1)" font-size="17.18" textLength="68.2" lengthAdjust="spacing" stroke="#000" stroke-width="0.9" stroke-linejoin="round">20 AMP</text>
<text transform="translate(1844.7,390.3) scale(0.804,1)" font-size="17.61" textLength="67.7" lengthAdjust="spacing" stroke="#000" stroke-width="0.9" stroke-linejoin="round">FUSE 2</text>
<line x1="1844" y1="395" x2="1896.5" y2="395" stroke-width="2.6"/>
<text transform="translate(1844.7,411.7) scale(0.750,1)" font-size="16.18" textLength="64.2" lengthAdjust="spacing" stroke="#000" stroke-width="0.9" stroke-linejoin="round">10 AMP</text>
<path d="M1631,457 Q1634,465 1642,465 L1676,465 L1683,474 L1690,465 L1728,465 Q1735,465 1736,457" fill="none" stroke-width="4"/>
<path d="M1775,457 Q1778,465 1786,465 L1822,465 L1829,475 L1836,465 L1872,465 Q1879,465 1880,457" fill="none" stroke-width="4"/>
<text transform="translate(1630.4,503.7) scale(0.849,1)" font-size="16.61" textLength="118.6" lengthAdjust="spacing" stroke="#000" stroke-width="0.9" stroke-linejoin="round">FUSE BLOCK</text>
<text transform="translate(1630.4,527.7) scale(0.791,1)" font-size="19.04" textLength="89.5" lengthAdjust="spacing" stroke="#000" stroke-width="0.9" stroke-linejoin="round">DETAILS</text>
<text transform="translate(1779.7,503.7) scale(0.847,1)" font-size="16.61" textLength="118.6" lengthAdjust="spacing" stroke="#000" stroke-width="0.9" stroke-linejoin="round">FUSE BLOCK</text>
<text transform="translate(1779.7,527.7) scale(0.783,1)" font-size="19.04" textLength="89.5" lengthAdjust="spacing" stroke="#000" stroke-width="0.9" stroke-linejoin="round">DETAILS</text>
<text transform="translate(1472.4,551.7) scale(0.943,1)" font-size="15.32" textLength="49.6" lengthAdjust="spacing" stroke="#000" stroke-width="0.9" stroke-linejoin="round">3 RED</text>
<text transform="translate(1547.7,551.7) scale(0.821,1)" font-size="17.61" textLength="10.3" lengthAdjust="spacingAndGlyphs" stroke="#000" stroke-width="0.9" stroke-linejoin="round">2</text>
<polygon points="1527.0,775.0 1540.0,775.0 1540.0,780.0 1545.5,785.5 1545.5,788.0 1541.5,788.0 1537.3,783.0 1529.7,783.0 1525.5,788.0 1521.5,788.0 1521.5,785.5 1527.0,780.0" stroke="none"/>
<polygon points="1527.5,788.0 1536.5,788.0 1543.5,794.0 1543.5,797.0 1538.0,797.0 1538.0,802.0 1526.0,802.0 1526.0,797.0 1520.5,797.0 1520.5,794.0" stroke="none"/>
<text transform="translate(1484.7,796.7) scale(0.806,1)" font-size="17.61" textLength="36.6" lengthAdjust="spacing" stroke="#000" stroke-width="0.9" stroke-linejoin="round">G10</text>
<text transform="translate(1551.7,794.7) scale(0.763,1)" font-size="18.18" textLength="47.8" lengthAdjust="spacing" stroke="#000" stroke-width="0.9" stroke-linejoin="round">C200</text>
<line x1="1549" y1="799.6" x2="1593.7" y2="799.6" stroke-width="2.6"/>
<text transform="translate(1468.7,974.3) scale(0.794,1)" font-size="18.46" textLength="59.8" lengthAdjust="spacing" stroke="#000" stroke-width="0.9" stroke-linejoin="round">3 RED</text>
<text transform="translate(1543.7,974.3) scale(0.783,1)" font-size="18.46" textLength="10.8" lengthAdjust="spacingAndGlyphs" stroke="#000" stroke-width="0.9" stroke-linejoin="round">2</text>
<text transform="translate(1502.7,1126.7) scale(0.707,1)" font-size="17.61" textLength="13.4" lengthAdjust="spacingAndGlyphs" stroke="#000" stroke-width="0.9" stroke-linejoin="round">C</text>
<polygon points="1523.0,1117.0 1534.0,1117.0 1534.0,1122.0 1539.5,1127.5 1539.5,1130.0 1535.5,1130.0 1532.3,1125.0 1524.7,1125.0 1521.5,1130.0 1517.5,1130.0 1517.5,1127.5 1523.0,1122.0" stroke="none"/>
<rect x="1177.7" y="1134.1" width="595.2" height="153.8" fill="none" stroke-width="4.2"/>
<text transform="translate(1782.2,1147.9) scale(0.875,1)" font-size="16.75" textLength="109.4" lengthAdjust="spacing" stroke="#000" stroke-width="0.9" stroke-linejoin="round">HEAD/PARK</text>
<line x1="1779.5" y1="1153" x2="1885" y2="1153" stroke-width="2.6"/>
<text transform="translate(1783.4,1172.7) scale(0.781,1)" font-size="18.46" textLength="146.5" lengthAdjust="spacing" stroke="#000" stroke-width="0.9" stroke-linejoin="round">LIGHT SWITCH</text>
<line x1="1779.5" y1="1177.2" x2="1899" y2="1177.2" stroke-width="2.6"/>
<polyline points="1265.7,1136 1265.7,1196" fill="none" stroke-width="2.2" stroke-linecap="butt" stroke-linejoin="miter"/>
<path d="M1257.3,1146 L1265.7,1136 L1277.4,1145" fill="none" stroke-width="2.4"/>
<circle cx="1265.7" cy="1196.3" r="5" stroke="none"/>
<polyline points="1265.7,1196 1228,1238" fill="none" stroke-width="3.4" stroke-linecap="butt" stroke-linejoin="miter"/>
<circle cx="1240" cy="1223.4" r="3.4" stroke="none"/>
<circle cx="1228" cy="1238.4" r="5" stroke="none"/>
<path d="M1233,1242 Q1243,1249 1250,1250" fill="none" stroke-width="1.5"/>
<text transform="translate(1193.7,1240.1) scale(0.823,1)" font-size="14.75" textLength="32.4" lengthAdjust="spacing" stroke="#000" stroke-width="0.9" stroke-linejoin="round">OFF</text>
<path d="M1298,1232 L1298,1168.5 L1423.5,1168.5 L1423.5,1192" fill="none" stroke-width="2.2"/>
<path d="M1261,1250.5 Q1285,1248 1300.5,1234" fill="none" stroke-width="8.5" stroke-linecap="round"/>
<polyline points="1263.3,1252 1263.3,1287" fill="none" stroke-width="2.2" stroke-linecap="butt" stroke-linejoin="miter"/>
<path d="M1254.3,1279.6 L1263.3,1287.6 L1273.3,1279.6" fill="none" stroke-width="2.4"/>
<text transform="translate(1313.2,1240.1) scale(0.930,1)" font-size="13.32" textLength="41.5" lengthAdjust="spacing" stroke="#000" stroke-width="0.9" stroke-linejoin="round">HEAD</text>
<text transform="translate(1217.9,1264.7) scale(0.906,1)" font-size="13.32" textLength="41.5" lengthAdjust="spacing" stroke="#000" stroke-width="0.9" stroke-linejoin="round">PARK</text>
<line x1="1257" y1="1207.4" x2="1671" y2="1206.5" stroke-width="2.2" stroke-dasharray="9 5"/>
<circle cx="1421.8" cy="1192.3" r="5" stroke="none"/>
<polyline points="1421.8,1192.3 1384.7,1236" fill="none" stroke-width="3.4" stroke-linecap="butt" stroke-linejoin="miter"/>
<circle cx="1396.7" cy="1221.4" r="3.4" stroke="none"/>
<circle cx="1384.7" cy="1235.4" r="5" stroke="none"/>
<text transform="translate(1359.3,1227.1) scale(0.853,1)" font-size="14.18" textLength="31.2" lengthAdjust="spacing" stroke="#000" stroke-width="0.9" stroke-linejoin="round">OFF</text>
<path d="M1388,1238 Q1404,1248 1419.8,1247.5 Q1440,1245 1453.9,1234.4" fill="none" stroke-width="1.6" stroke-dasharray="5 4"/>
<circle cx="1419.8" cy="1247.5" r="4.5" stroke="none"/>
<circle cx="1453.9" cy="1234.4" r="4.5" stroke="none"/>
<text transform="translate(1401.4,1267.2) scale(0.930,1)" font-size="13.32" textLength="41.5" lengthAdjust="spacing" stroke="#000" stroke-width="0.9" stroke-linejoin="round">PARK</text>
<text transform="translate(1466.7,1240.1) scale(0.837,1)" font-size="14.75" textLength="45.9" lengthAdjust="spacing" stroke="#000" stroke-width="0.9" stroke-linejoin="round">HEAD</text>
<polyline points="1383.7,1236 1383.7,1284" fill="none" stroke-width="2.2" stroke-linecap="butt" stroke-linejoin="miter"/>
<path d="M1373.6,1277.6 L1383.7,1284.5 L1393.7,1277.6" fill="none" stroke-width="2.4"/>
<path d="M1517,1144 L1527,1136 L1537,1144" fill="none" stroke-width="2.4"/>
<path d="M1527,1136 L1527,1191 L1539.6,1191" fill="none" stroke-width="2.2"/>
<circle cx="1539.6" cy="1191" r="5" stroke="none"/>
<path d="M1539.6,1189 Q1563,1170 1588,1189" fill="none" stroke-width="2.6"/>
<circle cx="1588" cy="1190.3" r="5" stroke="none"/>
<circle cx="1606.5" cy="1191" r="5" stroke="none"/>
<circle cx="1678.4" cy="1191" r="5.5" stroke="none"/>
<polyline points="1588,1191 1678.4,1191" fill="none" stroke-width="2.4" stroke-linecap="butt" stroke-linejoin="miter"/>
<polyline points="1606.5,1191 1606.5,1287" fill="none" stroke-width="2.2" stroke-linecap="butt" stroke-linejoin="miter"/>
<path d="M1595.4,1278.3 L1606.5,1287 L1616.5,1278.3" fill="none" stroke-width="2.4"/>
<polyline points="1678.4,1191 1643.7,1235.7" fill="none" stroke-width="3.4" stroke-linecap="butt" stroke-linejoin="miter"/>
<circle cx="1657.3" cy="1220" r="3.4" stroke="none"/>
<circle cx="1643.7" cy="1235.7" r="5" stroke="none"/>
<text transform="translate(1616.2,1227.2) scale(0.809,1)" font-size="14.89" textLength="32.7" lengthAdjust="spacing" stroke="#000" stroke-width="0.9" stroke-linejoin="round">OFF</text>
<path d="M1647,1238 Q1660,1247 1678.4,1247.3 Q1698,1246 1714.3,1233.7" fill="none" stroke-width="1.6" stroke-dasharray="5 4"/>
<circle cx="1678.4" cy="1247.3" r="4.5" stroke="none"/>
<circle cx="1714.3" cy="1233.7" r="4.5" stroke="none"/>
<polyline points="1714.3,1234 1714.3,1287" fill="none" stroke-width="2.2" stroke-linecap="butt" stroke-linejoin="miter"/>
<path d="M1704.4,1278.3 L1714.3,1287 L1724.2,1278.3" fill="none" stroke-width="2.4"/>
<text transform="translate(1659.5,1265.7) scale(0.830,1)" font-size="15.04" textLength="46.8" lengthAdjust="spacing" stroke="#000" stroke-width="0.9" stroke-linejoin="round">PARK</text>
<text transform="translate(1723.7,1240.7) scale(0.879,1)" font-size="14.75" textLength="45.9" lengthAdjust="spacing" stroke="#000" stroke-width="0.9" stroke-linejoin="round">HEAD</text>
<text transform="translate(1539.3,1154.1) scale(0.885,1)" font-size="14.89" textLength="66.4" lengthAdjust="spacing" stroke="#000" stroke-width="0.9" stroke-linejoin="round">CIRCUIT</text>
<text transform="translate(1539.3,1175.2) scale(0.840,1)" font-size="15.04" textLength="81.7" lengthAdjust="spacing" stroke="#000" stroke-width="0.9" stroke-linejoin="round">BREAKER</text>
<path d="M1181,1306 L1186,1314 L1460,1314 L1467,1321 L1474,1313.5 L1756,1312 L1763,1303" fill="none" stroke-width="4"/>
<text transform="translate(1352.3,1349.5) scale(0.762,1)" font-size="19.18" textLength="296.2" lengthAdjust="spacing" stroke="#000" stroke-width="0.9" stroke-linejoin="round">SEE LIGHT SWITCH DETAILS</text>
<path d="M1852,1370 Q1880,1360 1892,1375 Q1900,1388 1898,1402" fill="none" stroke-width="1.4" stroke-dasharray="6 4"/>
<line x1="2" y1="1096.5" x2="125" y2="1096.5" stroke-width="0.9" stroke-dasharray="1 4 2 6 1 3"/>
<line x1="1" y1="1100.5" x2="85" y2="1100.5" stroke-width="0.9" stroke-dasharray="1 6 1 5 3 7"/>
<path d="M127,1392 L132,1389 M149,1386 L152,1386 M164,1391 L167,1393 M173,1401 L174,1401" stroke-width="1.2" fill="none"/>
<path d="M1345,1330 L1585,1328" stroke-width="1" stroke-dasharray="1 4 1 7" fill="none"/>
</svg></body></html>
